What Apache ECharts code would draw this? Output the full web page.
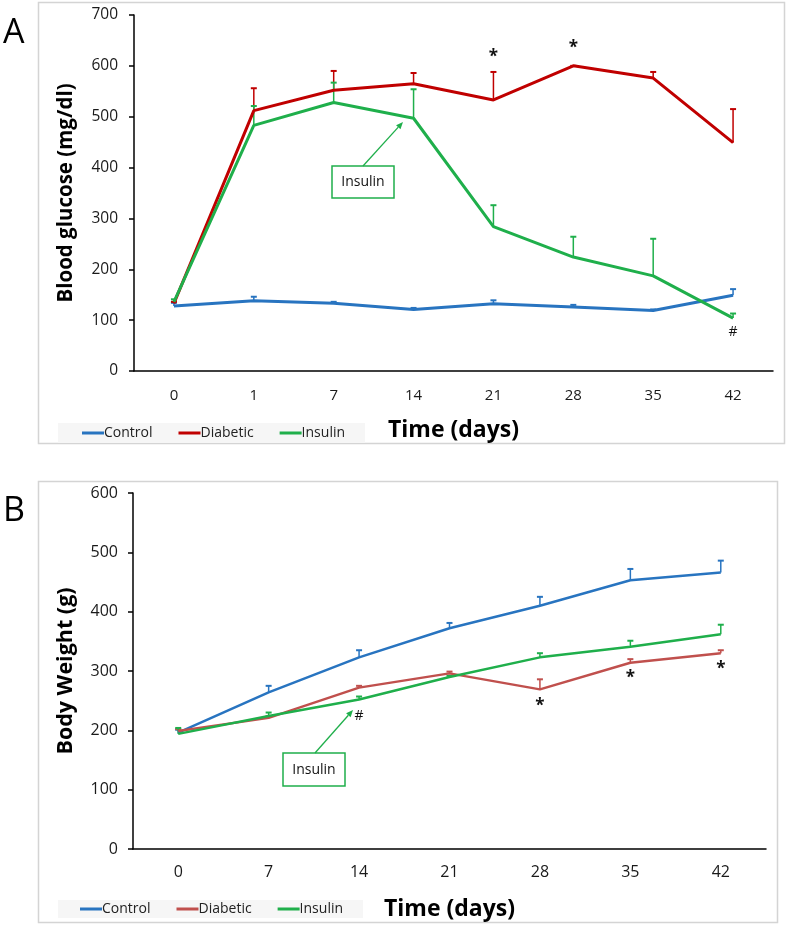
<!DOCTYPE html>
<html>
<head>
<meta charset="utf-8">
<script src="https://cdn.jsdelivr.net/npm/echarts@6/dist/echarts.min.js"></script>
<style>
html,body{margin:0;padding:0;background:#fff;}
#chart{width:788px;height:926px;}
</style>
</head>
<body>
<div id="chart"></div>
<script>
// ---------- Data ----------
const daysA = ['0', '1', '7', '14', '21', '28', '35', '42'];
const daysB = ['0', '7', '14', '21', '28', '35', '42'];
const seriesNames = ['Control', 'Diabetic', 'Insulin'];

// Panel A: blood glucose (mg/dl), mean and upper error
const glucoseControl = [128, 138, 133, 121, 132, 126, 119, 149];
const glucoseControlErr = [6, 8, 3, 3, 7, 4, 2, 12];
const glucoseDiabetic = [133, 512, 552, 565, 533, 600, 576, 449];
const glucoseDiabeticErr = [3, 44, 38, 21, 55, 0, 12, 66];
const glucoseInsulin = [136, 483, 528, 497, 284, 224, 187, 104];
const glucoseInsulinErr = [5, 38, 39, 57, 42, 40, 73, 9];
const glucoseMarks = [[4, 618, '*'], [5, 634, '*'], [7, 77, '#']];

// Panel B: body weight (g), mean and upper error
const weightControl = [196, 264, 323, 372, 410, 453, 466];
const weightControlErr = [5, 11, 12, 9, 15, 19, 20];
const weightDiabetic = [199, 221, 272, 296, 269, 314, 330];
const weightDiabeticErr = [3, 3, 3, 3, 17, 6, 5];
const weightInsulin = [194, 224, 252, 290, 323, 341, 362];
const weightInsulinErr = [10, 6, 5, 2, 7, 10, 16];
const weightMarks = [[2, 224, '#'], [4, 241, '*'], [5, 288, '*'], [6, 303, '*']];

// ---------- Styling ----------
const BLUE = '#2874c0';
const RED_A = '#c00000';
const RED_B = '#c0504d';
const GREEN = '#1faf4b';
const FONT = "'Open Sans', 'DejaVu Sans', sans-serif";

function errSeries(vals, errs, color, xi, yi, lw) {
  return {
    type: 'custom', xAxisIndex: xi, yAxisIndex: yi, silent: true, z: 3,
    data: vals.map((v, i) => [i, v, errs[i]]),
    renderItem: function (params, api) {
      const x = api.value(0), y = api.value(1), e = api.value(2);
      const p0 = api.coord([x, y]);
      const p1 = api.coord([x, y + e]);
      return {
        type: 'group', children: [
          { type: 'line', shape: { x1: p0[0], y1: p0[1], x2: p1[0], y2: p1[1] }, style: { stroke: color, lineWidth: lw } },
          { type: 'line', shape: { x1: p1[0] - 3, y1: p1[1], x2: p1[0] + 3, y2: p1[1] }, style: { stroke: color, lineWidth: 2 } }
        ]
      };
    }
  };
}
function markSeries(marks, xi, yi) {
  return {
    type: 'custom', xAxisIndex: xi, yAxisIndex: yi, silent: true, z: 5,
    data: marks,
    renderItem: function (params, api) {
      const p = api.coord([api.value(0), api.value(1)]);
      const t = marks[params.dataIndex][2];
      return {
        type: 'text', x: p[0], y: p[1],
        style: { text: t, fill: '#111', font: (t === '*' ? 'bold 17px ' : '14px ') + FONT, align: 'center', verticalAlign: 'middle' }
      };
    }
  };
}
function lineSeries(name, vals, color, xi, yi, lw) {
  return {
    name: name, type: 'line', xAxisIndex: xi, yAxisIndex: yi, data: vals,
    symbol: 'none', lineStyle: { color: color, width: lw }, itemStyle: { color: color }, z: 4, animation: false
  };
}
function arrow(x1, y1, x2, y2) {
  const ang = Math.atan2(y2 - y1, x2 - x1);
  const L = 7, W = 3;
  const bx = x2 - L * Math.cos(ang), by = y2 - L * Math.sin(ang);
  const nx = -Math.sin(ang) * W, ny = Math.cos(ang) * W;
  return [
    { type: 'line', shape: { x1: x1, y1: y1, x2: bx, y2: by }, style: { stroke: GREEN, lineWidth: 1.3 } },
    { type: 'polygon', shape: { points: [[x2, y2], [bx + nx, by + ny], [bx - nx, by - ny]] }, style: { fill: GREEN } }
  ];
}

const axisLineStyle = { lineStyle: { color: '#000', width: 1.5 } };
const tickStyle = { lineStyle: { color: '#000', width: 1.5 } };

const option = {
  animation: false,
  backgroundColor: '#fff',
  textStyle: { fontFamily: FONT },
  grid: [
    { left: 134, right: 15, top: 15, height: 356 },
    { left: 133, right: 22, top: 493, height: 356 }
  ],
  xAxis: [
    {
      gridIndex: 0, type: 'category', data: daysA, boundaryGap: true,
      axisLine: axisLineStyle, axisTick: Object.assign({ alignWithLabel: true, length: 5 }, tickStyle),
      axisLabel: { color: '#1a1a1a', fontSize: 15, margin: 17, fontFamily: FONT },
      name: 'Time (days)', nameLocation: 'middle', nameGap: 48,
      nameTextStyle: { fontSize: 23, fontWeight: 'bold', color: '#000', fontFamily: FONT }
    },
    {
      gridIndex: 1, type: 'category', data: daysB, boundaryGap: true,
      axisLine: axisLineStyle, axisTick: Object.assign({ alignWithLabel: true, length: 5 }, tickStyle),
      axisLabel: { color: '#1a1a1a', fontSize: 16, margin: 15, fontFamily: FONT },
      name: 'Time (days)', nameLocation: 'middle', nameGap: 49,
      nameTextStyle: { fontSize: 23, fontWeight: 'bold', color: '#000', fontFamily: FONT }
    }
  ],
  yAxis: [
    {
      gridIndex: 0, type: 'value', min: 0, max: 700, interval: 100,
      axisLine: Object.assign({ show: true }, axisLineStyle), axisTick: Object.assign({ show: true, length: 5 }, tickStyle),
      splitLine: { show: false },
      axisLabel: { color: '#1a1a1a', fontSize: 15.5, margin: 16, fontFamily: FONT },
      name: 'Blood glucose (mg/dl)', nameLocation: 'middle', nameGap: 57,
      nameTextStyle: { fontSize: 20.5, fontWeight: 'bold', color: '#000', fontFamily: FONT }
    },
    {
      gridIndex: 1, type: 'value', min: 0, max: 600, interval: 100,
      axisLine: Object.assign({ show: true }, axisLineStyle), axisTick: Object.assign({ show: true, length: 5 }, tickStyle),
      splitLine: { show: false },
      axisLabel: { color: '#1a1a1a', fontSize: 16, margin: 15, fontFamily: FONT },
      name: 'Body Weight (g)', nameLocation: 'middle', nameGap: 56,
      nameTextStyle: { fontSize: 21.5, fontWeight: 'bold', color: '#000', fontFamily: FONT }
    }
  ],
  legend: [
    {
      left: 58, top: 423, width: 309, height: 20, padding: [3, 20, 3, 24], itemGap: 26,
      backgroundColor: '#f6f6f6', icon: 'rect', itemWidth: 22, itemHeight: 3,
      textStyle: { fontSize: 14, color: '#222', fontFamily: FONT, padding: [0, 0, 0, -5] },
      selectedMode: false,
      data: [
        { name: 'Control', itemStyle: { color: BLUE } },
        { name: 'Diabetic', itemStyle: { color: RED_A } },
        { name: 'Insulin', itemStyle: { color: GREEN } }
      ]
    },
    {
      left: 58, top: 900, width: 305, height: 20, padding: [2, 20, 2, 22], itemGap: 26,
      backgroundColor: '#f6f6f6', icon: 'rect', itemWidth: 22, itemHeight: 3,
      textStyle: { fontSize: 14, color: '#222', fontFamily: FONT, padding: [0, 0, 0, -5] },
      selectedMode: false,
      data: [
        { name: 'Control', itemStyle: { color: BLUE } },
        { name: 'Diabetic', itemStyle: { color: RED_B } },
        { name: 'Insulin', itemStyle: { color: GREEN } }
      ]
    }
  ],
  series: [
    errSeries(glucoseControl, glucoseControlErr, BLUE, 0, 0, 1.5),
    errSeries(glucoseDiabetic, glucoseDiabeticErr, RED_A, 0, 0, 1.5),
    errSeries(glucoseInsulin, glucoseInsulinErr, GREEN, 0, 0, 1.5),
    lineSeries(seriesNames[0], glucoseControl, BLUE, 0, 0, 3),
    lineSeries(seriesNames[1], glucoseDiabetic, RED_A, 0, 0, 3),
    lineSeries(seriesNames[2], glucoseInsulin, GREEN, 0, 0, 3),
    markSeries(glucoseMarks, 0, 0),
    errSeries(weightControl, weightControlErr, BLUE, 1, 1, 1.5),
    errSeries(weightDiabetic, weightDiabeticErr, RED_B, 1, 1, 1.5),
    errSeries(weightInsulin, weightInsulinErr, GREEN, 1, 1, 1.5),
    lineSeries(seriesNames[0], weightControl, BLUE, 1, 1, 2.5),
    lineSeries(seriesNames[1], weightDiabetic, RED_B, 1, 1, 2.5),
    lineSeries(seriesNames[2], weightInsulin, GREEN, 1, 1, 2.5),
    markSeries(weightMarks, 1, 1)
  ],
  graphic: [
    { type: 'rect', shape: { x: 38.5, y: 2.5, width: 746, height: 441 }, style: { fill: 'none', stroke: '#d4d4d4', lineWidth: 1.5 }, z: -1 },
    { type: 'rect', shape: { x: 38.5, y: 481.5, width: 739, height: 441 }, style: { fill: 'none', stroke: '#d4d4d4', lineWidth: 1.5 }, z: -1 },
    { type: 'text', left: 3, top: 16, style: { text: 'A', font: '34px ' + FONT, fill: '#000' } },
    { type: 'text', left: 3, top: 494, style: { text: 'B', font: '34px ' + FONT, fill: '#000' } },
    { type: 'rect', shape: { x: 332, y: 166, width: 62, height: 32 }, style: { fill: '#fff', stroke: GREEN, lineWidth: 1.5 } },
    { type: 'text', x: 363, y: 182, style: { text: 'Insulin', font: '14px ' + FONT, fill: '#111', align: 'center', verticalAlign: 'middle' } },
    { type: 'rect', shape: { x: 283, y: 753, width: 62, height: 33 }, style: { fill: '#fff', stroke: GREEN, lineWidth: 1.5 } },
    { type: 'text', x: 314, y: 770, style: { text: 'Insulin', font: '14px ' + FONT, fill: '#111', align: 'center', verticalAlign: 'middle' } }
  ].concat(arrow(363, 166, 403, 122), arrow(315, 753, 353, 710))
};

const chart = echarts.init(document.getElementById('chart'), null, { renderer: 'canvas' });
chart.setOption(option);
</script>
</body>
</html>
